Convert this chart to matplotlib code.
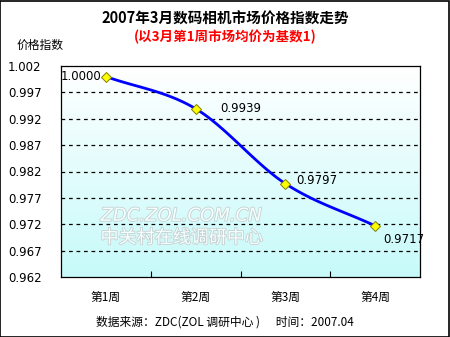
import numpy as np
import matplotlib.pyplot as plt
import matplotlib.patheffects as pe
from matplotlib.patches import Rectangle

plt.rcParams['font.family'] = ['Noto Sans CJK SC', 'DejaVu Sans']

weeks = ['第1周', '第2周', '第3周', '第4周']
index_values = [1.0000, 0.9939, 0.9797, 0.9717]
y_ticks = [0.962, 0.967, 0.972, 0.977, 0.982, 0.987, 0.992, 0.997, 1.002]


def smooth_curve(xs, ys, n=40):
    # Catmull-Rom style smoothing between the points
    xs = np.asarray(xs, float)
    ys = np.asarray(ys, float)
    px = np.concatenate([[2 * xs[0] - xs[1]], xs, [2 * xs[-1] - xs[-2]]])
    py = np.concatenate([[2 * ys[0] - ys[1]], ys, [2 * ys[-1] - ys[-2]]])
    out_x, out_y = [], []
    t = np.linspace(0, 1, n)
    for i in range(1, len(px) - 2):
        p0, p1, p2, p3 = [np.array([px[j], py[j]]) for j in range(i - 1, i + 3)]
        c1 = p1 + (p2 - p0) / 6
        c2 = p2 - (p3 - p1) / 6
        b = ((1 - t) ** 3)[:, None] * p1 + (3 * (1 - t) ** 2 * t)[:, None] * c1 \
            + (3 * (1 - t) * t ** 2)[:, None] * c2 + (t ** 3)[:, None] * p2
        out_x.extend(b[:, 0])
        out_y.extend(b[:, 1])
    return np.array(out_x), np.array(out_y)


fig = plt.figure(figsize=(4.5, 3.37), dpi=100)
fig.patch.set_facecolor('white')
fig.patches.append(Rectangle((0.001, 0.001), 0.997, 0.996, transform=fig.transFigure,
                             fill=False, edgecolor='black', linewidth=1.2))

ax = fig.add_axes([61 / 450, 1 - 277 / 337, 359 / 450, 211 / 337])
x = np.arange(len(weeks))
ax.set_xlim(-0.5, len(weeks) - 0.5)
ax.set_ylim(y_ticks[0], y_ticks[-1])

# gradient background, white at top to pale cyan at bottom
grad = np.linspace(0, 1, 256)[:, None]
c_top = np.array([1.0, 1.0, 1.0])
c_bot = np.array([0.78, 0.98, 0.98])
img = c_bot[None, None, :] * (1 - grad[:, :, None]) + c_top[None, None, :] * grad[:, :, None]
ax.imshow(img, extent=[-0.5, len(weeks) - 0.5, y_ticks[0], y_ticks[-1]],
          aspect='auto', origin='lower', zorder=0)

for yv in y_ticks[1:-1]:
    ax.axhline(yv, color='black', linestyle=(0, (3, 3)), linewidth=0.9, zorder=1)

# watermark
wm = [pe.withStroke(linewidth=1.2, foreground='#c8d0d0')]
ax.text(0.11, 0.29, 'ZDC.ZOL.COM.CN', transform=ax.transAxes, fontsize=13,
        color='#f4ffff', family='DejaVu Sans', style='italic', zorder=2, path_effects=wm,
        va='center')
ax.text(0.11, 0.185, '中关村在线调研中心', transform=ax.transAxes, fontsize=13,
        color='#f4ffff', zorder=2, path_effects=wm, va='center')

sx, sy = smooth_curve(x, index_values)
ax.plot(sx, sy, color='#0000ff', linewidth=2, zorder=3)
ax.plot(x, index_values, linestyle='none', marker='D', markersize=5,
        markerfacecolor='#ffff00', markeredgecolor='#808000', markeredgewidth=0.7, zorder=4)

label_offsets = [(-3, 0, 'right', 'center'), (18, 0, 'left', 'center'),
                 (8, 2, 'left', 'center'), (6, -10, 'left', 'center')]
for xi, v, (dx, dy, ha, va) in zip(x, index_values, label_offsets):
    ax.annotate(f'{v:.4f}', (xi, v), xytext=(dx, dy), textcoords='offset points',
                ha=ha, va=va, fontsize=8.5, family='DejaVu Sans', zorder=5)

ax.set_yticks(y_ticks)
ax.set_yticklabels([f'{v:.3f}' for v in y_ticks], family='DejaVu Sans', fontsize=8.5)
ax.set_xticks(x)
ax.set_xticklabels(weeks, fontsize=8.5)
ax.tick_params(axis='y', length=0, pad=14)
ax.tick_params(axis='x', length=0, pad=10)
ax.set_xticks(np.arange(0.5, len(weeks) - 1, 1), minor=True)
ax.tick_params(axis='x', which='minor', length=4, direction='in', width=0.8)
for s in ax.spines.values():
    s.set_linewidth(0.9)

fig.text(0.5, 1 - 19 / 337, '2007年3月数码相机市场价格指数走势', ha='center', va='center',
         fontsize=10.5, fontweight='bold')
fig.text(0.5, 1 - 37 / 337, '(以3月第1周市场均价为基数1)', ha='center', va='center',
         fontsize=9.7, fontweight='bold', color='#ff0000')
fig.text(17 / 450, 1 - 45 / 337, '价格指数', ha='left', va='center', fontsize=8.5)
fig.text(0.5, 1 - 322 / 337, '数据来源：ZDC(ZOL 调研中心 )      时间：2007.04', ha='center',
         va='center', fontsize=8.5)

fig.savefig('out.png', dpi=100)
